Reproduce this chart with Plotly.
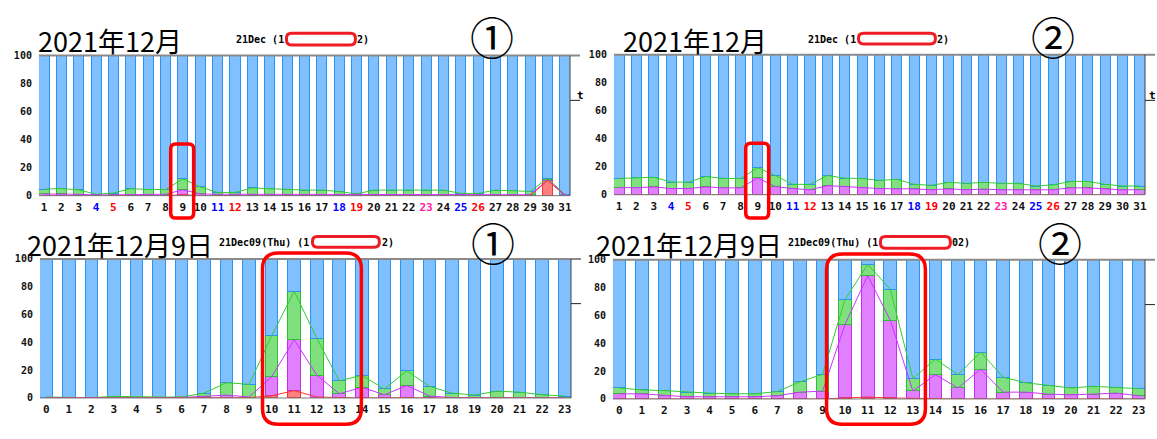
import plotly.graph_objects as go

W, H = 1157, 439

# ---------------- data ----------------
days = list(range(1, 32))
hours = list(range(0, 24))

day_colors = {4: "#0000ff", 5: "#ff0000", 11: "#0000ff", 12: "#ff0000", 18: "#0000ff",
              19: "#ff0000", 23: "#ff1aa3", 25: "#0000ff", 26: "#ff0000"}

# Panel 1 (Dec, server 1)
m1_red = [0]*8 + [0.7] + [0]*20 + [11.0, 0]
m1_mag = [1.2, 1.2, 1.0, 0.5, 0.5, 1.0, 1.0, 1.0, 3.5, 1.2, 1.0, 1.0, 1.0, 1.0, 1.0, 0.8,
          0.8, 0.7, 0.5, 0.7, 0.7, 0.7, 0.7, 0.7, 0.5, 0.5, 0.7, 0.7, 0.7, 0.3, 0.5]
m1_grn = [3.4, 3.9, 3.2, 0.5, 1.4, 4.0, 3.4, 3.4, 7.8, 5.0, 1.3, 1.3, 4.5, 3.9, 3.6, 3.2,
          3.2, 2.3, 0.7, 3.3, 3.3, 3.3, 2.8, 3.3, 1.1, 1.1, 3.3, 2.8, 2.3, 1.2, 0.2]

# Panel 2 (Dec, server 2)
m2_red = [0]*31
m2_mag = [5.1, 5.0, 5.6, 4.4, 4.4, 5.6, 4.9, 4.9, 12.0, 5.8, 4.4, 3.5, 6.5, 5.8, 4.9, 4.4,
          4.2, 4.2, 3.5, 4.2, 3.5, 4.0, 3.5, 3.5, 3.5, 3.5, 4.9, 4.9, 4.2, 3.5, 3.5]
m2_grn = [6.5, 7.0, 6.9, 4.6, 4.6, 7.4, 6.7, 6.7, 7.2, 7.9, 3.0, 3.9, 7.2, 6.0, 6.7, 5.8,
          6.8, 3.2, 3.2, 4.6, 4.6, 4.8, 4.6, 4.6, 2.7, 3.5, 4.6, 4.6, 3.2, 2.7, 2.7]

# Panel 3 (Dec 9, server 1)
d1_red = [0, 0, 0, 0, 0, 0, 0, 0, 0, 0.2, 1.6, 5.3, 0.7, 0.2, 0, 0, 0.3, 0, 0, 0, 0, 0, 0, 0]
d1_mag = [0.3, 0.1, 0.1, 0.2, 0.2, 0.2, 0.4, 1.2, 2.1, 0.5, 13.7, 36.6, 15.8, 2.8, 7.7, 2.3,
          8.7, 1.4, 0.3, 0.2, 0.2, 0.2, 0.5, 0.2]
d1_grn = [0.4, 0.1, 0.1, 1.0, 0.5, 0.5, 0.3, 2.3, 8.9, 9.1, 29.4, 34.8, 26.5, 9.3, 8.6, 4.2,
          10.5, 7.0, 3.2, 1.9, 4.7, 4.0, 1.8, 1.2]

# Panel 4 (Dec 9, server 2)
d2_red = [0]*10 + [0.7, 1.4, 0.7, 0.3] + [0]*10
d2_mag = [3.7, 3.7, 2.6, 1.6, 1.6, 1.6, 1.6, 2.3, 4.9, 5.6, 53.0, 87.2, 56.0, 5.5, 17.4, 7.9,
          21.4, 4.9, 4.9, 3.5, 3.0, 3.5, 4.2, 2.3]
d2_grn = [4.2, 2.8, 3.4, 3.3, 2.6, 2.1, 2.1, 3.0, 7.4, 12.1, 17.9, 8.1, 22.3, 8.9, 11.2, 9.5,
          12.3, 10.7, 6.7, 6.3, 4.9, 5.6, 4.2, 5.1]

y_ticks = [0, 20, 40, 60, 80, 100]

# ---------------- style ----------------
MONO = "DejaVu Sans Mono"
CJK = "Noto Sans CJK JP"
C_BLUE, C_BLUE_E = "#80c0ff", "#2b93f5"
C_GRN, C_GRN_E = "#80e080", "#2ec02e"
C_MAG, C_MAG_E = "#e080ff", "#c030f0"
C_RED, C_RED_E = "#ff8080", "#ff3030"


def px(x):
    return x / W


def py(y):
    return 1 - y / H


fig = go.Figure()

panels = [
    # xs, red, mag, grn, (left, right, top, bottom) px, labels, bar width, side tick y
    (days, m1_red, m1_mag, m1_grn, (39, 571, 51, 195), "month", 0.58, 97),
    (days, m2_red, m2_mag, m2_grn, (615, 1147, 50, 194), "month", 0.58, 97),
    (hours, d1_red, d1_mag, d1_grn, (40, 572, 260, 403), "day", 0.56, 306),
    (hours, d2_red, d2_mag, d2_grn, (614, 1147, 261, 404), "day", 0.56, 307),
]

shapes = []
annotations = []

for i, (xs, red, mag, grn, (L, R, T, B), kind, bw, tick_y) in enumerate(panels, start=1):
    xa = "x" if i == 1 else f"x{i}"
    ya = "y" if i == 1 else f"y{i}"
    top_m = [r + m for r, m in zip(red, mag)]
    top_t = [t + g for t, g in zip(top_m, grn)]
    idle = [100 - t for t in top_t]

    for vals, fc, ec in [(red, C_RED, C_RED_E), (mag, C_MAG, C_MAG_E),
                         (grn, C_GRN, C_GRN_E), (idle, C_BLUE, C_BLUE_E)]:
        fig.add_trace(go.Bar(x=xs, y=vals, width=bw, xaxis=xa, yaxis=ya,
                             marker=dict(color=fc, line=dict(color=ec, width=1)),
                             showlegend=False, hoverinfo="skip"))
    for vals, lc in [(top_t, "#33cc33"), (top_m, "#cc33ff"), (red, "#ff3333")]:
        fig.add_trace(go.Scatter(x=xs, y=vals, mode="lines", xaxis=xa, yaxis=ya,
                                 line=dict(color=lc, width=1), showlegend=False,
                                 hoverinfo="skip"))

    if kind == "month":
        ticktext = [f'<span style="color:{day_colors[d]}">{d}</span>' if d in day_colors
                    else str(d) for d in xs]
    else:
        ticktext = [str(h) for h in xs]
    xr = [xs[0] - bw / 2, xs[-1] + bw / 2]

    xkey = "xaxis" if i == 1 else f"xaxis{i}"
    ykey = "yaxis" if i == 1 else f"yaxis{i}"
    fig.layout[xkey] = dict(domain=[px(L), px(R)], range=xr, anchor=ya,
                            tickvals=xs, ticktext=ticktext, showgrid=False,
                            zeroline=False, showline=False, ticks="",
                            ticklabelstandoff=3,
                            tickfont=dict(family=MONO, size=11, color="#111", weight="bold"))
    fig.layout[ykey] = dict(domain=[py(B), py(T)], range=[0, 100], anchor=xa,
                            tickvals=y_ticks, showgrid=False, zeroline=False,
                            showline=False, ticks="", ticklabelstandoff=6,
                            tickfont=dict(family=MONO, size=10, color="#111", weight="bold"))

    # frame lines
    shapes.append(dict(type="line", xref="paper", yref="paper", x0=px(L), x1=px(R + 10),
                       y0=py(T), y1=py(T), line=dict(color="#8a8a8a", width=2)))
    shapes.append(dict(type="line", xref="paper", yref="paper", x0=px(R), x1=px(R),
                       y0=py(T), y1=py(B), line=dict(color="#444", width=1)))
    shapes.append(dict(type="line", xref="paper", yref="paper", x0=px(L), x1=px(R),
                       y0=py(B), y1=py(B), line=dict(color="#777", width=1)))
    shapes.append(dict(type="line", xref="paper", yref="paper", x0=px(R), x1=px(R + 10),
                       y0=py(tick_y), y1=py(tick_y), line=dict(color="#222", width=1)))


def rrect(x0, y0, x1, y1, r, color, width, fill=None):
    rx, ry = r / W, r / H
    X0, X1, Y0, Y1 = px(x0), px(x1), py(y0), py(y1)
    path = (f"M {X0+rx},{Y0} L {X1-rx},{Y0} Q {X1},{Y0} {X1},{Y0-ry} "
            f"L {X1},{Y1+ry} Q {X1},{Y1} {X1-rx},{Y1} L {X0+rx},{Y1} "
            f"Q {X0},{Y1} {X0},{Y1+ry} L {X0},{Y0-ry} Q {X0},{Y0} {X0+rx},{Y0} Z")
    d = dict(type="path", xref="paper", yref="paper", path=path,
             line=dict(color=color, width=width), layer="above")
    d["fillcolor"] = fill if fill else "rgba(0,0,0,0)"
    return d


# highlight boxes
shapes.append(rrect(171, 142, 194, 218, 5, "#ff0000", 3.5))
shapes.append(rrect(747, 141, 770, 218, 5, "#ff0000", 3.5))
shapes.append(rrect(263, 254, 362, 430, 16, "#ff0000", 3.5))
shapes.append(rrect(828, 255, 927, 430, 16, "#ff0000", 3.5))
# redaction boxes
shapes.append(rrect(287, 28, 356, 40, 5, "#ee1c24", 3, "white"))
shapes.append(rrect(860, 28, 937, 39, 5, "#ee1c24", 3, "white"))
shapes.append(rrect(313, 237, 380, 248, 5, "#ee1c24", 3, "white"))
shapes.append(rrect(882, 237, 952, 249, 5, "#ee1c24", 3, "white"))


def txt(x, y, s, size, family, anchor="left", weight="normal"):
    annotations.append(dict(x=px(x), y=py(y), xref="paper", yref="paper", text=s,
                            showarrow=False, xanchor=anchor, yanchor="middle",
                            font=dict(family=family, size=size, color="#000", weight=weight)))


txt(36, 35, "2021年12月", 27, CJK)
txt(622, 35, "2021年12月", 27, CJK)
txt(25, 245, "2021年12月9日", 27, CJK)
txt(595, 245, "2021年12月9日", 27, CJK)

txt(493, 31, "①", 44, CJK, "center")
txt(1055, 31, "②", 44, CJK, "center")
txt(494, 243, "①", 44, CJK, "center")
txt(1062, 243, "②", 44, CJK, "center")

txt(286, 34, "21Dec (1", 10, MONO, "right", "bold")
txt(356, 34, "2)", 10, MONO, "left", "bold")
txt(859, 34, "21Dec (1", 10, MONO, "right", "bold")
txt(937, 34, "2)", 10, MONO, "left", "bold")
txt(312, 243, "21Dec09(Thu) (1", 10, MONO, "right", "bold")
txt(381, 243, "2)", 10, MONO, "left", "bold")
txt(882, 243, "21Dec09(Thu) (1", 10, MONO, "right", "bold")
txt(952, 243, "02)", 10, MONO, "left", "bold")

txt(576, 92, "t", 11, MONO, "left", "bold")
txt(1149, 92, "t", 11, MONO, "left", "bold")

fig.update_layout(width=W, height=H, margin=dict(l=0, r=0, t=0, b=0),
                  paper_bgcolor="white", plot_bgcolor="white",
                  barmode="stack", shapes=shapes, annotations=annotations,
                  showlegend=False)

fig.write_html("out.html",
               config={"displayModeBar": False},
               post_script="document.body.style.margin='0px';"
                           "document.body.style.overflow='hidden';")
